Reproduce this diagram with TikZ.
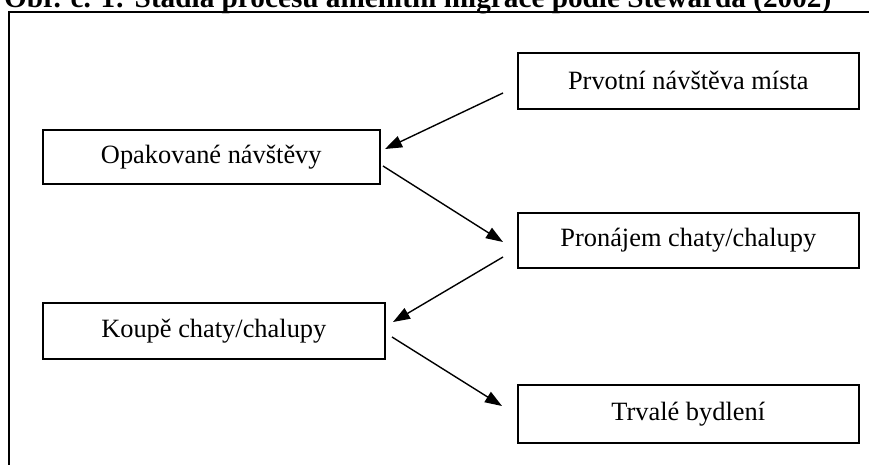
\documentclass[tikz,border=0pt]{standalone}
\usepackage{fontspec}
\setmainfont{Liberation Serif}
\usetikzlibrary{arrows.meta}
\tikzset{
  stagebox/.style={draw=black, line width=1.6pt, inner sep=0pt, anchor=north west,
    font=\fontsize{26.4}{30}\selectfont, text=black, align=center},
  arr/.style={line width=1.4pt, -{Triangle[length=17pt,width=12pt]}},
  frameline/.style={line width=2pt}
}
\begin{document}
\begin{tikzpicture}[x=1pt,y=-1pt]
\useasboundingbox (0,0) rectangle (869,464);
\clip (0,0) rectangle (869,464);
% title (cut off at top)
\node[anchor=base west, inner sep=0pt, font=\bfseries\fontsize{29.25}{32}\selectfont] (title) at (4,7.3) {Obr. č. 1: Stadia procesu amenitní migrace podle Stewarda (2002)};
% outer frame
\draw[frameline] (9,480) -- (9,11.5) -- (880,11.5);
% boxes
\node[stagebox, minimum width=341pt, minimum height=56pt] (b1) at (517,52) {Prvotní návštěva místa};
\node[stagebox, minimum width=337pt, minimum height=54pt] (b2) at (42,129) {Opakované návštěvy};
\node[stagebox, minimum width=341pt, minimum height=55pt] (b3) at (517,212) {Pronájem chaty/chalupy};
\node[stagebox, minimum width=342pt, minimum height=56pt] (b4) at (42,302) {Koupě chaty/chalupy};
\node[stagebox, minimum width=341pt, minimum height=58pt] (b5) at (517,384) {Trvalé bydlení};
% arrow end points
\coordinate (a1s) at (503,93);  \coordinate (a1e) at (385,149);
\coordinate (a2s) at (383,166); \coordinate (a2e) at (503,242);
\coordinate (a3s) at (503,257); \coordinate (a3e) at (393,322);
\coordinate (a4s) at (392,337); \coordinate (a4e) at (502,406);
\draw[arr] (a1s) -- (a1e);
\draw[arr] (a2s) -- (a2e);
\draw[arr] (a3s) -- (a3e);
\draw[arr] (a4s) -- (a4e);
\end{tikzpicture}
\end{document}
